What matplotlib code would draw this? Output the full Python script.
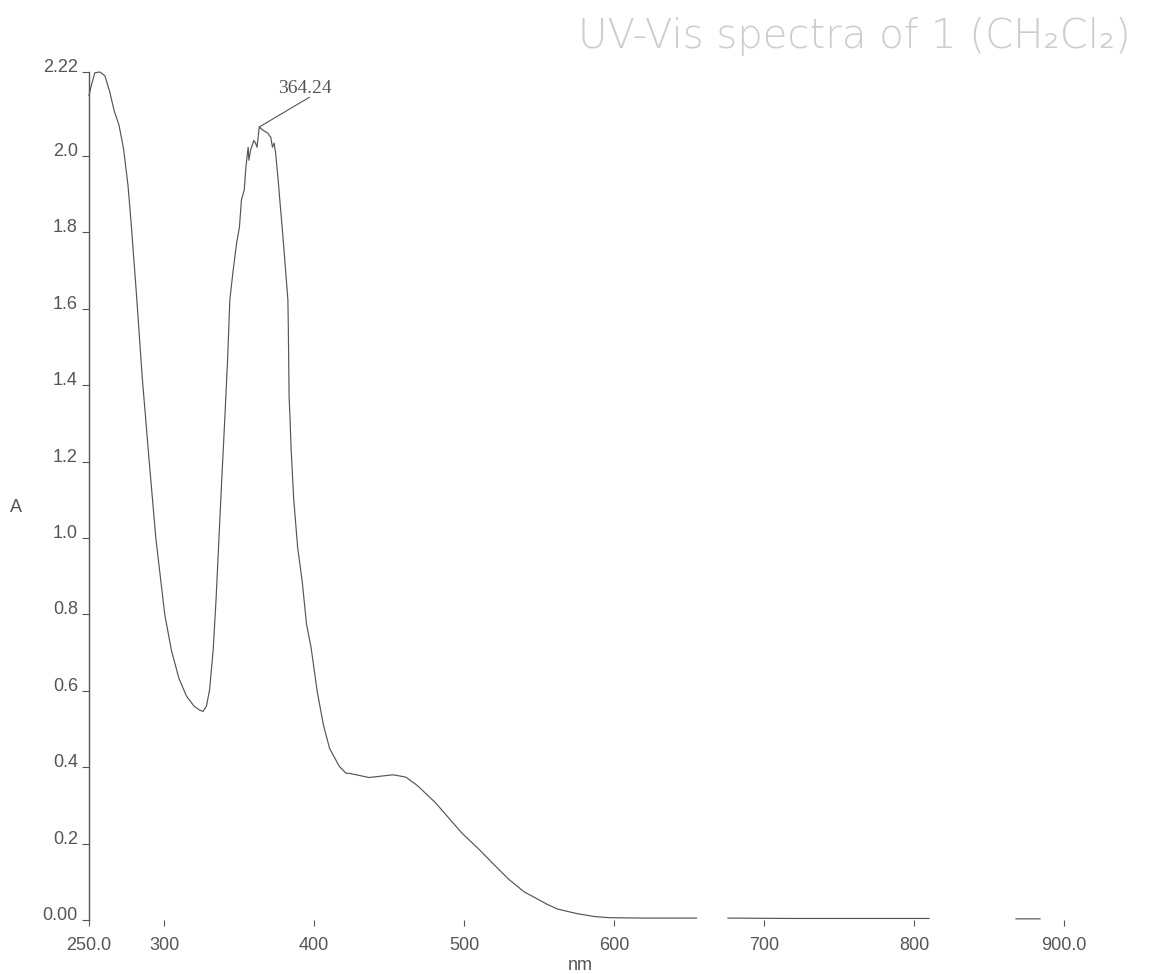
import numpy as np
import matplotlib.pyplot as plt

plt.rcParams['font.family'] = ['Liberation Sans', 'DejaVu Sans']

#wavelength (nm) and absorbance, nan = faded part of the scan
wavelength = [250.0, 251.6, 253.9, 257.3, 260.6, 263.7, 266.8, 270.0, 273.0, 276.0,
              278.0, 281.6, 285.5, 290.0, 294.6, 300.5, 305.0, 310.0, 315.0, 320.0,
              324.0, 326.0, 328.3,
              330.4, 332.8, 334.7, 336.6, 338.5, 340.5, 342.4, 343.9, 345.9, 348.4,
              350.3, 351.6, 353.5, 354.6, 356.1, 356.6, 357.7, 359.9, 361.1, 362.0,
              363.5, 365.8, 369.1, 371.2, 372.3, 373.4, 374.4, 376.3, 377.2, 379.1,
              380.9, 382.6, 382.9, 383.4, 383.9, 384.7, 386.4, 389.1, 392.1, 395.0,
              398.1, 402.1, 406.2, 410.4, 416.9, 421.4, 423.5, 436.7, 445.6, 452.3,
              454.5, 461.2, 467.9, 470.0, 481.0, 483.2, 498.5, 510.0, 520.0, 530.0,
              540.0, 555.0, 562.0, 575.0, 587.0, 597.0, 620.0, 655.0, 666.0, 676.0,
              720.0, 760.0, 810.0, 838.0, 868.0, 884.0]
absorbance = [2.158, 2.186, 2.218, 2.220, 2.210, 2.170, 2.118, 2.081, 2.020, 1.923,
              1.829, 1.640, 1.420, 1.207, 0.998, 0.800, 0.705, 0.632, 0.586, 0.560,
              0.549, 0.546, 0.560,
              0.603, 0.708, 0.839, 0.996, 1.153, 1.310, 1.467, 1.624, 1.694, 1.772,
              1.814, 1.885, 1.911, 1.971, 2.023, 1.989, 2.015, 2.041, 2.033, 2.023,
              2.076, 2.068, 2.060, 2.049, 2.023, 2.034, 2.008, 1.929, 1.885, 1.798,
              1.709, 1.623, 1.545, 1.368, 1.326, 1.237, 1.106, 0.975, 0.888, 0.775,
              0.712, 0.599, 0.512, 0.449, 0.402, 0.384, 0.384, 0.373, 0.377, 0.380,
              0.379, 0.374, 0.355, 0.348, 0.307, 0.297, 0.228, 0.185, 0.145, 0.106,
              0.074, 0.042, 0.029, 0.017, 0.009, 0.006, 0.005, 0.005, np.nan, 0.005,
              0.004, 0.004, 0.004, np.nan, 0.003, 0.003]

x_ticks = [250, 300, 400, 500, 600, 700, 800, 900]
x_labels = ['250.0', '300', '400', '500', '600', '700', '800', '900.0']
y_ticks = [0.0, 0.2, 0.4, 0.6, 0.8, 1.0, 1.2, 1.4, 1.6, 1.8, 2.0, 2.22]
y_labels = ['0.00', '0.2', '0.4', '0.6', '0.8', '1.0', '1.2', '1.4', '1.6', '1.8', '2.0', '2.22']

peak_nm, peak_A = 363.5, 2.076

ink = '#555555'

fig = plt.figure(figsize=(11.49, 9.74), dpi=100)
ax = fig.add_axes([89/1149, 54/974, 975/1149, 848/974])

ax.plot(wavelength, absorbance, color=ink, lw=0.85, clip_on=False)

ax.set_xlim(250, 900)
ax.set_ylim(0, 2.22)

for s in ['top', 'right', 'bottom']:
    ax.spines[s].set_visible(False)
ax.spines['left'].set_color(ink)
ax.spines['left'].set_linewidth(1.0)

ax.set_xticks(x_ticks)
ax.set_xticklabels(x_labels)
ax.set_yticks(y_ticks)
ax.set_yticklabels(y_labels)
ax.tick_params(axis='x', direction='out', length=4.3, width=0.8, pad=8,
               colors=ink, labelsize=13)
ax.tick_params(axis='y', direction='out', length=5, width=0.8, pad=3,
               colors=ink, labelsize=13)
for t in ax.get_yticklabels():
    t.set_verticalalignment('baseline')

#peak marker with leader line
ax.annotate('', xy=(peak_nm, peak_A), xytext=(397, 2.154),
            arrowprops=dict(arrowstyle='-', color=ink, lw=0.8, shrinkA=0, shrinkB=0),
            annotation_clip=False)
ax.text(393.8, 2.165, '364.24', ha='center', va='baseline', fontsize=14,
        family='Liberation Serif', color=ink, clip_on=False)

fig.text(16/1149, 1 - 508/974, 'A', ha='center', va='center', fontsize=13, color=ink)
fig.text(580/1149, 1 - 965/974, 'nm', ha='center', va='center', fontsize=13, color=ink)

#handwritten note on the printout
fig.text(578/1149, 1 - 48/974, 'UV-Vis spectra of 1 (CH\u2082Cl\u2082)', ha='left',
         va='baseline', fontsize=29, fontweight='light',
         family='DejaVu Sans', color='#cdcdcd')

plt.savefig('out.png', dpi=100)
